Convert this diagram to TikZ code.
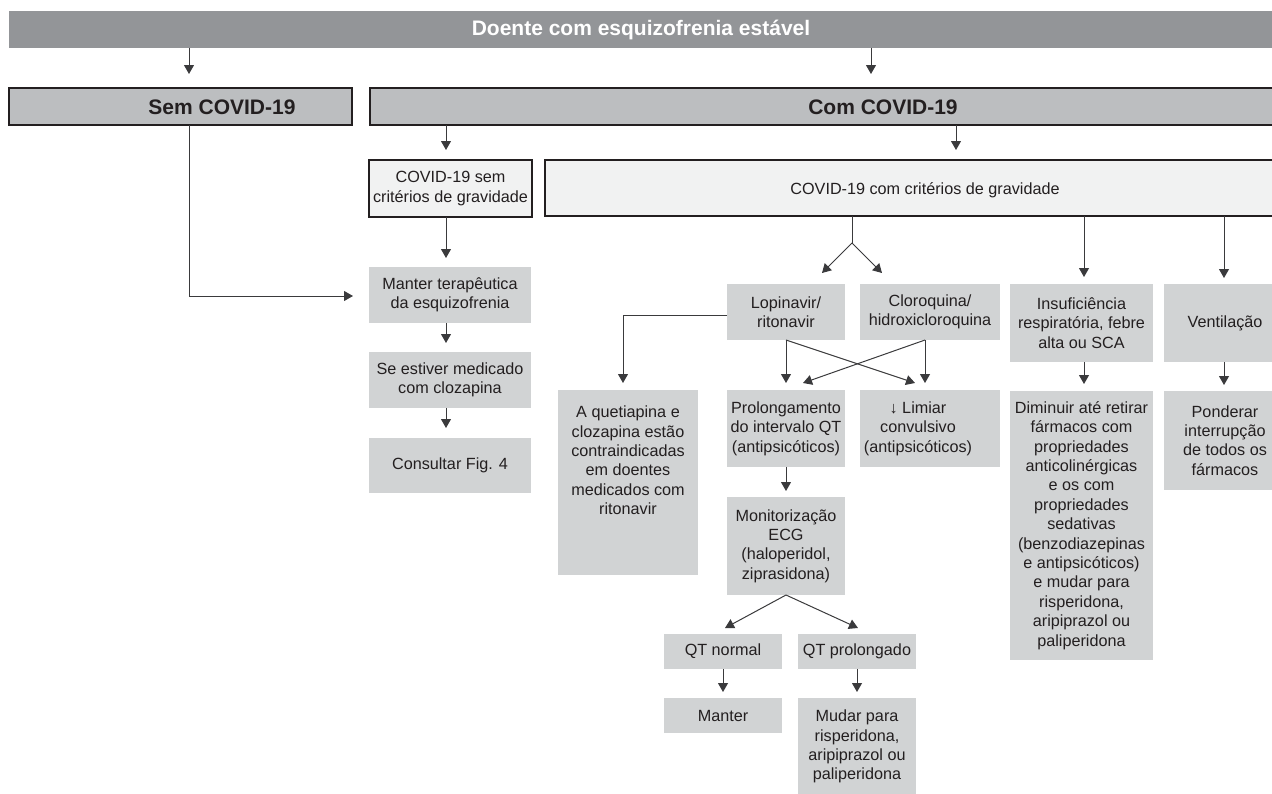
\documentclass[tikz,border=0pt]{standalone}
\usepackage{fontspec}
\setmainfont{Liberation Sans}
\usetikzlibrary{arrows.meta}
\definecolor{barc}{HTML}{939598}
\definecolor{midc}{HTML}{BCBEC0}
\definecolor{litc}{HTML}{F1F2F2}
\definecolor{boxc}{HTML}{D1D3D4}
\definecolor{inkc}{HTML}{231F20}
\definecolor{linec}{HTML}{3A3A3C}
\begin{document}
\begin{tikzpicture}[x=1pt,y=-1pt,
  base/.style={inner sep=0pt, outer sep=0pt, align=center, text=inkc, font=\fontsize{16.2}{19.4}\selectfont},
  gbox/.style={base, fill=boxc},
  lbox/.style={base, fill=litc, draw=inkc, line width=1.1pt},
  mbox/.style={base, fill=midc, draw=inkc, line width=1.1pt},
  barbox/.style={base, fill=barc},
  btxt/.style={inner sep=0pt, text=inkc, font=\fontsize{21}{25}\selectfont\bfseries},
  ntxt/.style={base},
  conn/.style={draw=linec, line width=1pt},
  arr/.style={conn, -{Triangle[length=9pt,width=10pt]}}
]
\useasboundingbox (0,0) rectangle (1272,793);
\clip (0,0) rectangle (1272,793);

% top bar
\node[barbox, minimum width=1291pt, minimum height=36.7pt] (top) at (654.5,29.35) {};
\node[btxt, text=white] (toptxt) at (641,30) {Doente com esquizofrenia estável};

% second row
\node[mbox, minimum width=343pt, minimum height=37pt] (sem) at (180.5,106.5) {};
\node[btxt] (semtxt) at (222,107) {Sem COVID-19};
\node[mbox, minimum width=930pt, minimum height=37pt] (com) at (835,106.5) {};
\node[btxt] (comtxt) at (883,107) {Com COVID-19};

% third row
\node[lbox, minimum width=163pt, minimum height=57pt] (semcrit) at (450.5,188.5) {COVID-19 sem\\critérios de gravidade};
\node[lbox, minimum width=755pt, minimum height=56pt] (crit) at (922.5,188) {};
\node[ntxt] (crittxt) at (925,190) {COVID-19 com critérios de gravidade};

% left column
\node[gbox, minimum width=162pt, minimum height=56pt] (manter) at (450,295) {Manter terapêutica\\da esquizofrenia};
\node[gbox, minimum width=162pt, minimum height=56pt] (seest) at (450,380) {Se estiver medicado\\com clozapina};
\node[gbox, minimum width=162pt, minimum height=55pt] (consultar) at (450,465.5) {Consultar Fig. 4};

% fourth row
\node[gbox, minimum width=118pt, minimum height=56pt] (lop) at (786,312) {Lopinavir/\\ritonavir};
\node[gbox, minimum width=140pt, minimum height=56pt] (clo) at (930,312) {Cloroquina/\\hidroxicloroquina};
\node[gbox, minimum width=143pt, minimum height=78pt] (insuf) at (1081.5,323) {Insuficiência\\respiratória, febre\\alta ou SCA};
\node[gbox, minimum width=122pt, minimum height=78pt] (vent) at (1225,323) {Ventilação};

% fifth row
\node[gbox, minimum width=140pt, minimum height=185pt] (quet) at (628,482.5) {};
\node[ntxt, anchor=north] (quettxt) at (628,406) {A quetiapina e\\clozapina estão\\contraindicadas\\em doentes\\medicados com\\ritonavir};
\node[gbox, minimum width=118pt, minimum height=77pt] (prol) at (786,428.5) {Prolongamento\\do intervalo QT\\(antipsicóticos)};
\node[gbox, minimum width=140pt, minimum height=77pt] (lim) at (930,428.5) {};
\node[ntxt] (limtxt) at (918,428.5) {↓ Limiar\\convulsivo\\(antipsicóticos)};
\node[gbox, minimum width=143pt, minimum height=269pt] (dim) at (1081.5,525.5) {Diminuir até retirar\\fármacos com\\propriedades\\anticolinérgicas\\e os com\\propriedades\\sedativas\\(benzodiazepinas\\e antipsicóticos)\\e mudar para\\risperidona,\\aripiprazol ou\\paliperidona};
\node[gbox, minimum width=122pt, minimum height=99pt] (pond) at (1225,440.5) {Ponderar\\interrupção\\de todos os\\fármacos};

% lower middle
\node[gbox, minimum width=118pt, minimum height=98pt] (mon) at (786,546) {Monitorização\\ECG\\(haloperidol,\\ziprasidona)};
\node[gbox, minimum width=118pt, minimum height=35pt] (qtn) at (723,651.5) {QT normal};
\node[gbox, minimum width=118pt, minimum height=35pt] (qtp) at (857,651.5) {QT prolongado};
\node[gbox, minimum width=118pt, minimum height=35pt] (man2) at (723,715.5) {Manter};
\node[gbox, minimum width=118pt, minimum height=97pt] (mud) at (857,746.5) {Mudar para\\risperidona,\\aripiprazol ou\\paliperidona};

% helper coordinates
\coordinate (xa) at (189,0);
\coordinate (xb) at (871,0);
\coordinate (xc) at (446,0);
\coordinate (xd) at (956,0);
\coordinate (xe) at (1084,0);
\coordinate (xf) at (1224,0);
\coordinate (br) at (852,243);
\coordinate (tl) at (822,273);
\coordinate (tr) at (882,273);
\coordinate (qt) at (623,383);
\coordinate (cl) at (915,383);
\coordinate (cv) at (925,383);
\coordinate (cr) at (803,383);
\coordinate (ml) at (725,628);
\coordinate (mr) at (858,628);

% connectors
\draw[arr, shorten >=14pt] (top.south -| xa) -- (sem.north -| xa);
\draw[arr, shorten >=14pt] (top.south -| xb) -- (com.north -| xb);
\draw[arr, shorten >=10pt] (com.south -| xc) -- (semcrit.north -| xc);
\draw[arr, shorten >=10pt] (com.south -| xd) -- (crit.north -| xd);
\draw[arr, shorten >=9pt] (semcrit.south -| xc) -- (manter.north -| xc);
\draw[arr, shorten >=9pt] (manter.south -| xc) -- (seest.north -| xc);
\draw[arr, shorten >=10pt] (seest.south -| xc) -- (consultar.north -| xc);
\draw[arr, shorten >=16pt] (sem.south -| xa) |- ([yshift=-1pt]manter.west);

\draw[conn] (crit.south -| br) -- (br);
\draw[arr] (br) -- (tl);
\draw[arr] (br) -- (tr);
\draw[arr, shorten >=7pt] (crit.south -| xe) -- (insuf.north -| xe);
\draw[arr, shorten >=6pt] (crit.south -| xf) -- (vent.north -| xf);
\draw[arr, shorten >=7pt] (insuf.south -| xe) -- (dim.north -| xe);
\draw[arr, shorten >=6pt] (vent.south -| xf) -- (pond.north -| xf);

\draw[arr] ([yshift=-3pt]lop.west) -| (qt);
\draw[arr, shorten >=7pt] (lop.south) -- (prol.north);
\draw[arr] (lop.south) -- (cl);
\draw[arr] ([xshift=-5pt]clo.south) -- (cv);
\draw[arr] ([xshift=-5pt]clo.south) -- (cr);

\draw[arr, shorten >=6pt] (prol.south) -- (mon.north);
\draw[arr] (mon.south) -- (ml);
\draw[arr] (mon.south) -- (mr);
\draw[arr, shorten >=6pt] (qtn.south) -- (man2.north);
\draw[arr, shorten >=6pt] (qtp.south) -- (mud.north);
\end{tikzpicture}
\end{document}
